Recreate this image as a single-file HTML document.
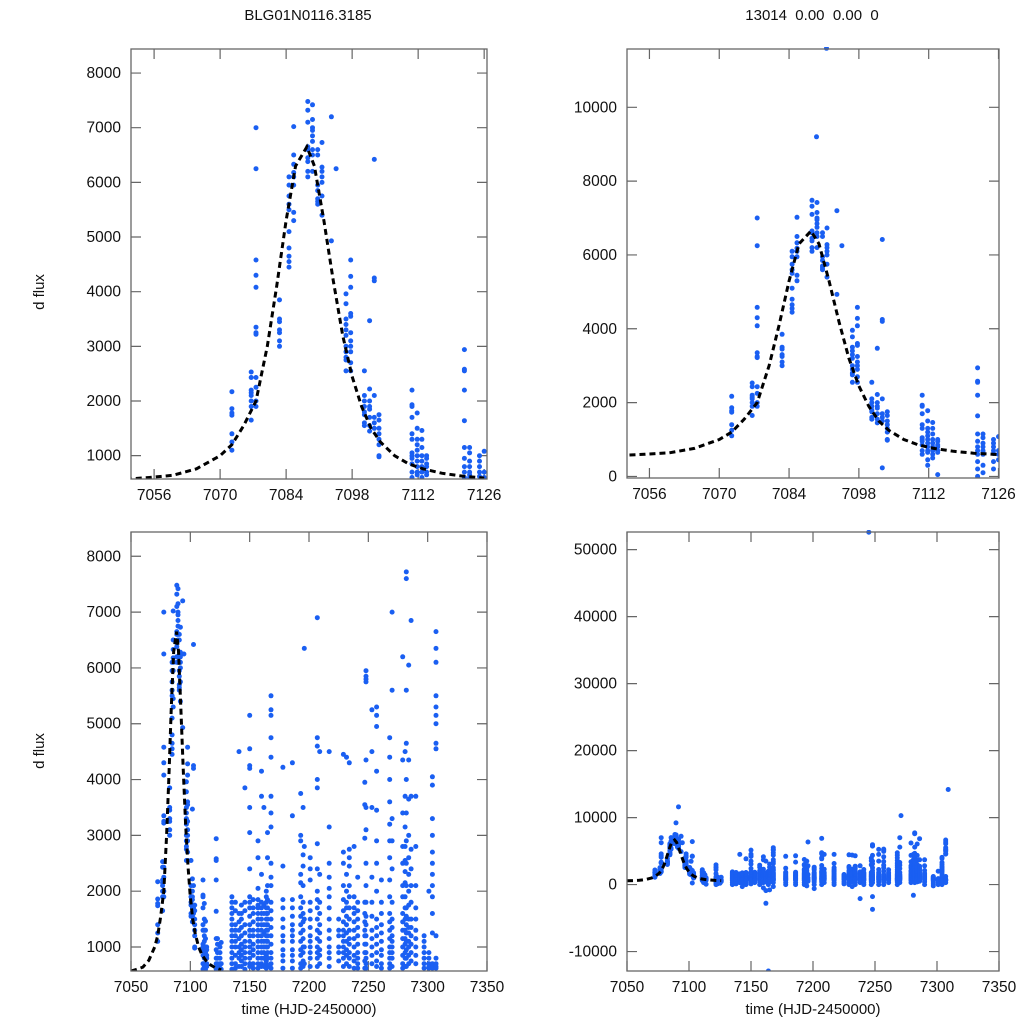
<!DOCTYPE html>
<html><head><meta charset="utf-8">
<style>
html,body{margin:0;padding:0;background:#fff;overflow:hidden;width:1024px;height:1024px;}
svg{display:block;}
svg text{font-family:"Liberation Sans",Arial,sans-serif;fill:#111;}
</style></head>
<body>
<svg id="chart" width="1024" height="1024" viewBox="0 0 1024 1024" xmlns="http://www.w3.org/2000/svg" overflow="hidden">
<text x="308" y="20" font-size="15" text-anchor="middle">BLG01N0116.3185</text>
<text x="812" y="20" font-size="15" text-anchor="middle" xml:space="preserve">13014  0.00  0.00  0</text>
<text transform="translate(44,292) rotate(-90)" font-size="15" text-anchor="middle">d flux</text>
<text transform="translate(44,751) rotate(-90)" font-size="15" text-anchor="middle">d flux</text>
<text x="309" y="1014" font-size="15" text-anchor="middle">time (HJD-2450000)</text>
<text x="813" y="1014" font-size="15" text-anchor="middle">time (HJD-2450000)</text>
</svg>
<script>
// ---- data ----
const eventTimes = [7072.5,7076.6,7077.6,7082.6,7084.6,7085.6,7088.6,7089.6,7090.7,7091.6,7093.6,7094.6,7096.7,7097.7,7100.6,7101.7,7102.7,7103.7,7110.7,7111.8,7112.8,7113.8,7121.8,7122.9,7125.0,7126.0];
const eventFluxes = [
 [2170,1860,1780,1740,1400,1250,1100],
 [2530,2430,2200,2150,2100,2000,1900,1650],
 [7000,6250,4580,4300,4080,3350,3250,3220,2430,2250,2000,1900],
 [3850,3500,3450,3300,3250,3100,3000],
 [6100,5950,5750,5600,5500,5100,4800,4650,4550,4450],
 [7020,6500,6330,6180,6100,5950,5450,5300],
 [7480,7320,7100,6650,6600,6450,6380,6200,6100],
 [7420,7150,7000,6950,6850,6750,6600,6500,6200],
 [6600,6500,5950,5850,5700,5650,5600],
 [6730,6280,6200,6100,6000,5750,5400],
 [7200,4930],
 [6250],
 [3960,3780,3500,3400,3300,3200,3000,2900,2800,2750,2550],
 [4580,4280,4080,3600,3550,3250,3100,3000,2900,2700,2550],
 [2550,2100,2000,1900,1800,1750,1600,1550],
 [3470,2220,2000,1900,1850,1700,1550,1450],
 [6420,4250,4200,2100,1700,1600,1500,230],
 [1750,1650,1500,1400,1300,1200,1000,980],
 [2200,1930,1900,1700,1400,1300,1050,1000,950,850,700,600],
 [1780,1500,1300,1200,1100,1000,900,800,700,650,450,300],
 [1460,1300,1150,1000,900,800,700,600,500],
 [1000,950,850,800,700,650,50],
 [2940,2580,2550,2200,1640,1150,950,800,700,600,400,200,0],
 [1150,1050,900,800,700,650,600,300,100],
 [1000,900,800,700,620,400,200],
 [1080,700,600,450]
];
const seasonTimes = [7135,7138,7141,7143,7146,7150,7153,7157,7160,7162,7164,7165,7168,7178,7186,7193,7195,7196,7201,7207,7209,7217,7225,7229,7231.6,7234,7238,7241,7247,7248,7253,7257,7261,7268,7270,7279,7281,7282,7284,7286,7290,7297,7301,7304,7307];
const seasonFluxes = [
 [1900,1800,1700,1600,1500,1400,1300,1200,1100,1000,900,800,700,600,300,0],
 [1800,1650,1400,1300,1200,1100,1000,850,700,620,400,100],
 [4500,1600,1450,1300,1150,1000,900,800,650,300],
 [1750,1600,1500,1350,1200,1050,950,850,750,650,200,-300],
 [3850,1800,1650,1400,1250,1100,1000,900,800,700,600,300,0],
 [5150,4550,4250,4200,3500,3050,2400,1900,1800,1700,1550,1400,1300,1200,1100,1000,900,800,700,650,400,100],
 [1850,1700,1600,1450,1300,1200,1050,950,850,700,620,300],
 [2900,2600,2050,1850,1750,1700,1600,1500,1400,1300,1200,1100,1000,900,800,700,620,400,0],
 [4150,3700,2300,1800,1700,1600,1500,1400,1300,1200,1100,1000,900,800,700,650,300,-500],
 [3500,1750,1600,1400,1250,1100,1000,900,800,650,400,-2800,-900],
 [2000,1900,1800,1700,1600,1500,1400,1300,1200,1100,1000,850,750,700,620,300,0],
 [3050,2600,2100,1850,1700,1600,1500,1400,1300,1200,1100,1000,900,800,650,400,-800],
 [5500,5250,5150,4750,4400,3700,3400,3150,2500,2250,2100,1800,1650,1500,1350,1200,1050,900,800,700,620,300,-300],
 [4220,2450,1850,1700,1500,1350,1200,1100,950,850,750,620,300,0],
 [4300,3350,1850,1700,1550,1400,1300,1200,1100,950,850,750,620,300,0],
 [3750,3000,2900,2300,2150,1900,1700,1550,1400,1250,1100,950,850,700,620,300,0],
 [3500,2650,2450,2100,1800,1600,1450,1300,1150,1000,900,750,650,400,-200],
 [6350,2800,1500,1000,700,500],
 [2600,2400,2200,1800,1650,1500,1350,1200,1100,1000,900,800,650,400,0,-600],
 [6900,4750,4600,4000,3850,2850,2400,2000,1850,1700,1500,1300,1150,1000,900,800,650,400,0],
 [4500,2300,1800,1600,1400,1250,1100,950,850,700,300],
 [4500,3150,2500,2250,2050,1900,1700,1500,1300,1150,1000,900,800,650,300,0],
 [1500,1300,1200,1000,900,750,400,100],
 [4450,2700,2500,2100,1850,1650,1450,1300,1200,1100,1000,900,800,650,300,0],
 [4400,2300,2000,1800,1700,1550,1400,1250,1100,950,850,700,400,-300],
 [4300,2750,2600,2450,2100,1900,1700,1500,1300,1150,1050,900,800,650,400,0],
 [2800,1900,1700,1600,1450,1300,1150,1000,850,750,620,300,-2100],
 [2250,1800,1650,1500,1350,1200,1050,900,800,700,620,300,0],
 [3950,3550,2950,1800,1600,1450,1300,1200,1050,900,750,620,400,0],
 [5950,5850,5800,5750,4350,3500,3100,2500,2100,1800,1550,1400,1200,1050,900,800,700,620,300,-1800,-3700],
 [5250,4500,3500,2250,1800,1550,1300,1150,1000,850,700,400,0],
 [5300,5150,4950,4150,3450,2900,2500,2000,1500,1350,1200,1050,900,750,650,400,0],
 [2200,1800,1600,1400,1250,1100,950,850,700,620,300],
 [4750,4400,4000,3600,3200,2900,2600,2200,1900,1600,1450,1300,1150,1000,900,800,700,620,400,0],
 [7000,5600,3300,2900,2400,1800,1500,1350,1200,1100,1000,900,800,650,300],
 [6200,4350,3400,2800,2500,2100,1900,1600,1450,1300,1150,1000,850,700,620,300],
 [4500,3700,3150,2800,2550,2350,2150,1900,1700,1500,1300,1150,1050,900,800,650,400,-1600],
 [7720,7600,5600,4650,4000,3400,2900,2500,2100,1700,1550,1400,1250,1100,950,800,650,300],
 [6050,4350,3650,3000,2600,2300,2000,1750,1500,1350,1250,1100,1000,850,700,400],
 [6850,3700,2750,2400,2100,1800,1500,1350,1200,1050,900,750,500],
 [3700,2800,2100,1700,1500,1300,1150,1000,850,700,400,0],
 [1200,1100,1000,900,800,700,620,400,100,-200],
 [2000,900,800,700,650,620,300,0],
 [4050,3900,3300,3000,2700,2500,2300,2100,1900,1600,1250,700,650,620,300,0],
 [6650,6350,6100,5500,5300,5150,5000,4650,4550,1200,800,700,650,620,300]
];
const outlierTimes = [7091.5,7089.5,7245,7164,7309,7271];
const outlierFluxes = [11600,9200,52600,-12900,14200,10300];
const modelTimes = [7050,7055,7060,7065,7070,7072.5,7075,7077.6,7080,7082,7084,7086,7088.4,7090,7092,7094,7096,7098,7100,7102,7104,7107,7110,7113,7117,7121,7126];
const modelFluxes = [570,600,640,760,1000,1200,1550,2000,3000,4100,5300,6300,6650,6300,5300,4200,3200,2450,1900,1500,1250,1000,850,760,680,630,590];
const xTicksZoom = [7056,7070,7084,7098,7112,7126];
const xTicksFull = [7050,7100,7150,7200,7250,7300,7350];
const yTicksTL = [1000,2000,3000,4000,5000,6000,7000,8000];
const yTicksTR = [0,2000,4000,6000,8000,10000];
const yTicksBR = [-10000,0,10000,20000,30000,40000,50000];

// ---- layout ----
const panels = [
 {id:'top-left',   L:131,R:487,T:49,B:479, tmin:7051.1,tmax:7126.6, fmin:573, fmax:8440, xt:xTicksZoom, yt:yTicksTL},
 {id:'top-right',  L:627,R:999,T:49,B:478, tmin:7051.5,tmax:7126.1, fmin:-43, fmax:11580, xt:xTicksZoom, yt:yTicksTR},
 {id:'bottom-left',L:131,R:487,T:532,B:971, tmin:7050,tmax:7350, fmin:570, fmax:8435, xt:xTicksFull, yt:yTicksTL},
 {id:'bottom-right',L:627,R:999,T:532,B:971, tmin:7050,tmax:7350, fmin:-12900, fmax:52630, xt:xTicksFull, yt:yTicksBR}
];
const NS='http://www.w3.org/2000/svg';
const svg=document.getElementById('chart');
function mk(tag,attrs,parent){const e=document.createElementNS(NS,tag);for(const k in attrs)e.setAttribute(k,attrs[k]);(parent||svg).appendChild(e);return e;}

panels.forEach((p,pi)=>{
  const xs=t=>p.L+(t-p.tmin)/(p.tmax-p.tmin)*(p.R-p.L);
  const ys=f=>p.B-(f-p.fmin)/(p.fmax-p.fmin)*(p.B-p.T);
  const g=mk('g',{});
  
  
  const cp=mk('clipPath',{id:'clip'+pi},g);
  mk('rect',{x:p.L,y:p.T-2,width:p.R-p.L,height:p.B-p.T+2},cp);
  p.xt.forEach(t=>{
    const x=xs(t);
    if(x<p.L-1||x>p.R+1) return;
    const tk=mk('path',{d:`M${x},${p.B}v-10M${x},${p.T}v10`,stroke:'#666','stroke-width':1.2},g);
    
    
    const lb=mk('text',{x:x,y:p.B+21,'font-size':15.5,'text-anchor':'middle'},g);
    
    
    lb.textContent=t;
  });
  p.yt.forEach(f=>{
    const y=ys(f);
    if(y<p.T-1||y>p.B+1) return;
    const tk=mk('path',{d:`M${p.L},${y}h10M${p.R},${y}h-10`,stroke:'#666','stroke-width':1.2},g);
    
    
    const lb=mk('text',{x:p.L-10,y:y+5,'font-size':15.5,'text-anchor':'end'},g);
    
    
    lb.textContent=f;
  });
  const pts=mk('g',{'clip-path':`url(#clip${pi})`,fill:'#1a5ff2'},g);
  
  
  const addCols=(times,fluxes)=>times.forEach((t,i)=>fluxes[i].forEach(f=>{
    const c=mk('circle',{cx:xs(t).toFixed(1),cy:ys(f).toFixed(1),r:2.5},pts);
    
    
  }));
  addCols(eventTimes,eventFluxes);
  addCols(seasonTimes,seasonFluxes);
  outlierTimes.forEach((t,i)=>{
    const c=mk('circle',{cx:xs(t).toFixed(1),cy:ys(outlierFluxes[i]).toFixed(1),r:2.5},pts);
    
    
  });
  const d=modelTimes.map((t,i)=>(i?'L':'M')+xs(t).toFixed(1)+','+ys(modelFluxes[i]).toFixed(1)).join('');
  const ln=mk('path',{d:d,fill:'none',stroke:'#000','stroke-width':3,'stroke-dasharray':'6,4','clip-path':`url(#clip${pi})`},g);
  
  
  const fr=mk('rect',{x:p.L,y:p.T,width:p.R-p.L,height:p.B-p.T,fill:'none',stroke:'#666','stroke-width':1.3},g);
  
  
});
</script>
</body></html>
